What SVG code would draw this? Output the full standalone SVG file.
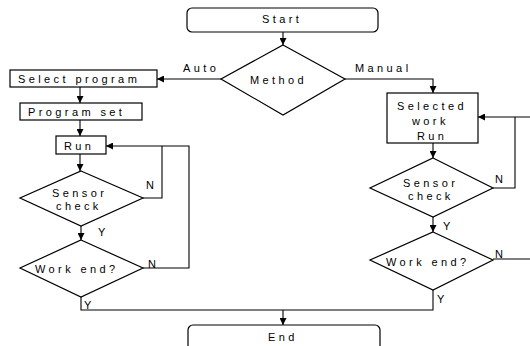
<svg xmlns="http://www.w3.org/2000/svg" width="530" height="346" viewBox="0 0 530 346">
<defs>
<style>
.s{fill:none;stroke:#000;stroke-width:1.2}
.b{fill:#fff;stroke:#000;stroke-width:1.2}
.c{fill:none;stroke:#000;stroke-width:1.1}
text{font-family:"Liberation Sans",Arial,sans-serif;font-size:11px;letter-spacing:3.4px;fill:#000}
.lb{letter-spacing:0}
</style>
<marker id="a" viewBox="0 0 10 10" refX="10" refY="5" markerWidth="7" markerHeight="7" markerUnits="userSpaceOnUse" orient="auto">
<path d="M0,0 L10,5 L0,10 Z" fill="#000"/>
</marker>
</defs>
<rect width="530" height="346" fill="#fff"/>
<g id="connectors">
<path class="c" d="M283,32 V45" marker-end="url(#a)"/>
<path class="c" d="M221,79 H157" marker-end="url(#a)"/>
<path class="c" d="M345,79 H433 V93" marker-end="url(#a)"/>
<path class="c" d="M80,87 V103" marker-end="url(#a)"/>
<path class="c" d="M80,120 V136" marker-end="url(#a)"/>
<path class="c" d="M80,154 V171" marker-end="url(#a)"/>
<path class="c" d="M81,226 V240" marker-end="url(#a)"/>
<path class="c" d="M143,198 H162 V146"/>
<path class="c" d="M143,268 H189 V146 H106" marker-end="url(#a)"/>
<path class="c" d="M81,297 V310 H433 V290"/>
<path class="c" d="M283,310 V325" marker-end="url(#a)"/>
<path class="c" d="M433,143 V158" marker-end="url(#a)"/>
<path class="c" d="M433,217 V232" marker-end="url(#a)"/>
<path class="c" d="M493,188 H515 V117"/>
<path class="c" d="M530,117 H478" marker-end="url(#a)"/>
<path class="c" d="M493,259 H530"/>
<text x="183" y="72">Auto</text>
<text x="355" y="72">Manual</text>
<text class="lb" x="146" y="189">N</text>
<text class="lb" x="98" y="236">Y</text>
<text class="lb" x="148" y="268">N</text>
<text class="lb" x="84" y="309">Y</text>
<text class="lb" x="495" y="183">N</text>
<text class="lb" x="443" y="230">Y</text>
<text class="lb" x="495" y="258">N</text>
<text class="lb" x="437" y="303">Y</text>
</g>
<g id="start">
<rect class="b" x="187" y="8" width="191" height="24" rx="5"/>
<text x="262" y="23">Start</text>
</g>
<g id="method">
<polygon class="b" points="283,45 345,79 283,115 221,79"/>
<text x="250" y="84">Method</text>
</g>
<g id="select-program">
<rect class="b" x="10" y="70" width="147" height="17"/>
<text x="18" y="83">Select program</text>
</g>
<g id="program-set">
<rect class="b" x="20" y="103" width="122" height="17"/>
<text x="28" y="116">Program set</text>
</g>
<g id="run">
<rect class="b" x="56" y="136" width="50" height="18"/>
<text x="64" y="150">Run</text>
</g>
<g id="sensor-left">
<polygon class="b" points="81,171 143,198 81,226 20,198"/>
<text x="52" y="197">Sensor</text>
<text x="56" y="210">check</text>
</g>
<g id="workend-left">
<polygon class="b" points="81,240 143,268 81,297 20,268"/>
<text x="35" y="273">Work end?</text>
</g>
<g id="selected-work">
<rect class="b" x="387" y="93" width="91" height="50"/>
<text x="397" y="110">Selected</text>
<text x="412" y="125">work</text>
<text x="417" y="140">Run</text>
</g>
<g id="sensor-right">
<polygon class="b" points="433,158 493,188 433,217 370,188"/>
<text x="403" y="187">Sensor</text>
<text x="408" y="200">check</text>
</g>
<g id="workend-right">
<polygon class="b" points="433,232 493,260 433,290 370,260"/>
<text x="386" y="266">Work end?</text>
</g>
<g id="end">
<rect class="b" x="188" y="325" width="192" height="30" rx="5"/>
<text x="268" y="341">End</text>
</g>
</svg>
